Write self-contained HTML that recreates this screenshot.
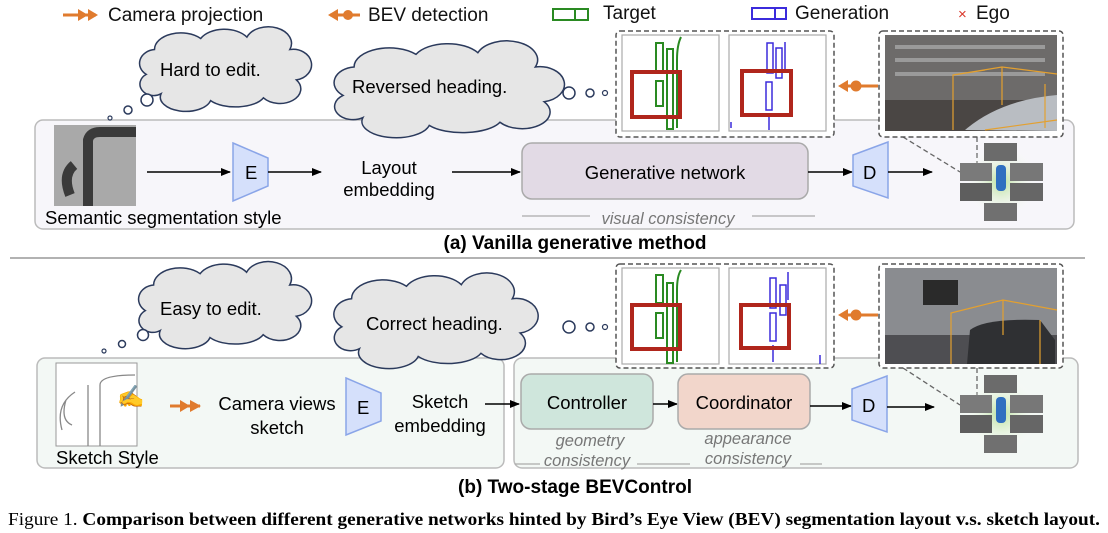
<!DOCTYPE html>
<html><head><meta charset="utf-8"><style>
body{margin:0;background:#fff}
svg{display:block;font-family:"Liberation Sans",sans-serif}
</style></head><body>
<svg width="1108" height="533" viewBox="0 0 1108 533" xmlns="http://www.w3.org/2000/svg">
<defs>
<marker id="ar" markerWidth="10" markerHeight="8" refX="9" refY="4" orient="auto" markerUnits="userSpaceOnUse"><path d="M0,0 L10,4 L0,8 Z" fill="#000"/></marker>
<radialGradient id="gl"><stop offset="0" stop-color="#b8e09a"/><stop offset="1" stop-color="#ffffff" stop-opacity="0"/></radialGradient>
<g id="cloud"><path d="M5,30 A10,10 0 0 1 10,12 A16,12 0 0 1 38,4 A16,12 0 0 1 66,3 A14,12 0 0 1 92,12 A10,10 0 0 1 96,34 A12,10 0 0 1 76,47 A18,10 0 0 1 44,49 A15,10 0 0 1 14,44 A8,8 0 0 1 5,30 Z" fill="#e6e6e6" stroke="#2b3a5c" stroke-width="1.5" vector-effect="non-scaling-stroke"/></g>
<g id="mosaic">
<circle cx="41" cy="39" r="38" fill="url(#gl)"/>
<rect x="24" y="0" width="33" height="18" fill="#6b6b6b"/>
<rect x="0" y="20" width="32" height="18" fill="#7a7a7a"/>
<rect x="0" y="40" width="32" height="18" fill="#5e5e5e"/>
<rect x="50" y="20" width="33" height="18" fill="#777"/>
<rect x="50" y="40" width="33" height="18" fill="#666"/>
<rect x="24" y="60" width="33" height="18" fill="#707070"/>
<rect x="36" y="22" width="10" height="26" rx="4" fill="#2f6fc0"/>
</g>
</defs>

<!-- legend -->
<g font-size="19" fill="#111">
<path d="M63,15 H96" stroke="#e07b2e" stroke-width="3"/><path d="M78,9 L88,15 L78,21 Z M88,9 L98,15 L88,21 Z" fill="#e07b2e"/>
<text x="108" y="21">Camera projection</text>
<path d="M330,15 H360" stroke="#e07b2e" stroke-width="3"/><path d="M338,9 L328,15 L338,21 Z" fill="#e07b2e"/><circle cx="348" cy="15" r="5" fill="#e07b2e"/>
<text x="368" y="21">BEV detection</text>
<rect x="553" y="9" width="35" height="11" fill="none" stroke="#2a8a22" stroke-width="2"/><path d="M575,9 V20" stroke="#2a8a22" stroke-width="2"/>
<text x="603" y="19">Target</text>
<rect x="752" y="8" width="34" height="11" fill="none" stroke="#3b2bdc" stroke-width="2"/><path d="M775,8 V19" stroke="#3b2bdc" stroke-width="2"/>
<text x="795" y="19">Generation</text>
<text x="958" y="19" fill="#d9372a" font-size="15">×</text><text x="976" y="19">Ego</text>
</g>

<g font-size="18.5">
<!-- top panel -->
<rect x="35" y="120" width="1039" height="109" rx="8" fill="#f7f6fa" stroke="#bbb" stroke-width="1.5"/>
<use href="#cloud" transform="translate(138,33) scale(1.65,1.38)"/>
<text x="160" y="76">Hard to edit.</text>
<circle cx="147" cy="100" r="6" fill="#fff" stroke="#2b3a5c" stroke-width="1.5"/>
<circle cx="128" cy="110" r="4" fill="#fff" stroke="#2b3a5c" stroke-width="1.5"/>
<circle cx="110" cy="118" r="2" fill="#fff" stroke="#2b3a5c" stroke-width="1.2"/>
<use href="#cloud" transform="translate(332,48) scale(2.21,1.58)"/>
<text x="352" y="93">Reversed heading.</text>
<circle cx="569" cy="93" r="6" fill="#fff" stroke="#2b3a5c" stroke-width="1.5"/>
<circle cx="590" cy="93" r="4" fill="#fff" stroke="#2b3a5c" stroke-width="1.5"/>
<circle cx="605" cy="93" r="2.5" fill="#fff" stroke="#2b3a5c" stroke-width="1.2"/>

<rect x="54" y="125" width="82" height="81" fill="#a9a9a9"/>
<path d="M88,206 V140 Q90,132 100,132 H136 M70,195 Q62,175 74,165" stroke="#3a3a3a" stroke-width="10" fill="none"/>
<text x="45" y="224">Semantic segmentation style</text>
<path d="M147,172 H230" stroke="#000" stroke-width="1.5" marker-end="url(#ar)"/>
<path d="M233,143 L268,158 L268,186 L233,201 Z" fill="#d5e0fb" stroke="#8aa5e8" stroke-width="1.5"/>
<text x="245" y="179">E</text>
<path d="M268,172 H321" stroke="#000" stroke-width="1.5" marker-end="url(#ar)"/>
<text x="389" y="174" text-anchor="middle">Layout</text>
<text x="389" y="196" text-anchor="middle">embedding</text>
<path d="M452,172 H520" stroke="#000" stroke-width="1.5" marker-end="url(#ar)"/>
<rect x="522" y="143" width="286" height="56" rx="10" fill="#e2dae5" stroke="#aaa" stroke-width="1.5"/>
<text x="665" y="179" text-anchor="middle">Generative network</text>
<path d="M808,172 H852" stroke="#000" stroke-width="1.5" marker-end="url(#ar)"/>
<path d="M853,155 L888,142 L888,198 L853,186 Z" fill="#d5e0fb" stroke="#8aa5e8" stroke-width="1.5"/>
<text x="863" y="179">D</text>
<path d="M888,172 H932" stroke="#000" stroke-width="1.5" marker-end="url(#ar)"/>
<text x="668" y="224" font-size="16.5" font-style="italic" fill="#777" text-anchor="middle">visual consistency</text>
<path d="M522,216 H590 M752,216 H815" stroke="#aaa" stroke-width="1.2"/>
<path d="M903,137 L960,172 M977,137 V163" stroke="#666" stroke-width="1.3" stroke-dasharray="5,3"/>
<use href="#mosaic" transform="translate(960,143)"/>

<!-- top BEV boxes -->
<rect x="616" y="31" width="218" height="106" rx="4" fill="#fff" stroke="#555" stroke-width="1.5" stroke-dasharray="5,3"/>
<rect x="622" y="35" width="97" height="96" fill="#fff" stroke="#aaa" stroke-width="1.2"/>
<rect x="729" y="35" width="97" height="96" fill="#fff" stroke="#aaa" stroke-width="1.2"/>
<g fill="none" stroke="#2a8a22" stroke-width="2"><rect x="656" y="43" width="7" height="30"/><rect x="667" y="49" width="6" height="80"/><rect x="656" y="81" width="7" height="25"/><path d="M677,128 V60 Q677,45 681,37"/></g>
<g fill="none" stroke="#3b2bdc" stroke-width="1.5"><rect x="767" y="43" width="6" height="30"/><rect x="776" y="48" width="6" height="30"/><rect x="766" y="82" width="6" height="28"/><path d="M785,42 V70 M769,115 V130 M731,122 V128"/></g>
<rect x="632" y="72" width="48" height="45" fill="none" stroke="#b0261c" stroke-width="4"/>
<rect x="742" y="71" width="49" height="44" fill="none" stroke="#b0261c" stroke-width="4"/>
<path d="M845,86 H878" stroke="#e07b2e" stroke-width="3"/><path d="M848,80 L838,86 L848,92 Z" fill="#e07b2e"/><circle cx="856" cy="86" r="5.5" fill="#e07b2e"/>
<rect x="879" y="31" width="184" height="106" rx="4" fill="#fff" stroke="#555" stroke-width="1.5" stroke-dasharray="5,3"/>
<rect x="885" y="35" width="172" height="96" fill="#6d6b6a"/>
<g fill="#9a9a9a"><rect x="895" y="45" width="150" height="4"/><rect x="895" y="58" width="150" height="4"/><rect x="895" y="72" width="150" height="4"/></g>
<rect x="885" y="100" width="172" height="31" fill="#4a4644"/>
<path d="M965,130 Q1000,100 1057,95 V131 Z" fill="#b9bdc2"/>
<g fill="none" stroke="#e3a030" stroke-width="1.2"><path d="M953,130 V75 L1002,67 L1057,74 M953,75 L985,70 M1002,67 V105 M1045,84 V128 M985,130 L1057,120"/></g>

<text x="575" y="249" font-size="19" font-weight="bold" text-anchor="middle">(a) Vanilla generative method</text>
<path d="M10,258 H1085" stroke="#999" stroke-width="1.5"/>

<!-- bottom -->
<rect x="37" y="358" width="467" height="110" rx="8" fill="#f3f8f5" stroke="#bbb" stroke-width="1.5"/>
<rect x="514" y="358" width="564" height="110" rx="8" fill="#f3f8f5" stroke="#bbb" stroke-width="1.5"/>
<use href="#cloud" transform="translate(137,268) scale(1.66,1.42)"/>
<text x="160" y="315">Easy to edit.</text>
<circle cx="143" cy="335" r="5.5" fill="#fff" stroke="#2b3a5c" stroke-width="1.5"/>
<circle cx="122" cy="344" r="3.5" fill="#fff" stroke="#2b3a5c" stroke-width="1.5"/>
<circle cx="104" cy="351" r="2" fill="#fff" stroke="#2b3a5c" stroke-width="1.2"/>
<use href="#cloud" transform="translate(332,280) scale(1.96,1.56)"/>
<text x="366" y="330">Correct heading.</text>
<circle cx="569" cy="327" r="6" fill="#fff" stroke="#2b3a5c" stroke-width="1.5"/>
<circle cx="590" cy="327" r="4" fill="#fff" stroke="#2b3a5c" stroke-width="1.5"/>
<circle cx="605" cy="327" r="2.5" fill="#fff" stroke="#2b3a5c" stroke-width="1.2"/>

<rect x="56" y="363" width="81" height="83" fill="#fff" stroke="#999" stroke-width="1"/>
<path d="M88,446 V385 M100,446 V385 Q100,375 135,375 M62,430 Q55,405 75,392 M66,400 Q60,420 72,425" stroke="#888" stroke-width="1.3" fill="none"/>
<text x="117" y="404" font-size="22">✍</text>
<text x="56" y="464">Sketch Style</text>
<path d="M170,406 H200" stroke="#e07b2e" stroke-width="3"/><path d="M180,400 L190,406 L180,412 Z M190,400 L201,406 L190,412 Z" fill="#e07b2e"/>
<text x="277" y="410" text-anchor="middle">Camera views</text>
<text x="277" y="434" text-anchor="middle">sketch</text>
<path d="M346,378 L381,393 L381,421 L346,435 Z" fill="#d5e0fb" stroke="#8aa5e8" stroke-width="1.5"/>
<text x="357" y="414">E</text>
<text x="440" y="408" text-anchor="middle">Sketch</text>
<text x="440" y="432" text-anchor="middle">embedding</text>
<path d="M485,404 H519" stroke="#000" stroke-width="1.5" marker-end="url(#ar)"/>
<rect x="521" y="374" width="132" height="55" rx="10" fill="#cfe6dc" stroke="#aaa" stroke-width="1.5"/>
<text x="587" y="409" text-anchor="middle">Controller</text>
<path d="M653,404 H677" stroke="#000" stroke-width="1.5" marker-end="url(#ar)"/>
<rect x="678" y="374" width="132" height="55" rx="10" fill="#f2d6cb" stroke="#aaa" stroke-width="1.5"/>
<text x="744" y="409" text-anchor="middle">Coordinator</text>
<path d="M810,406 H851" stroke="#000" stroke-width="1.5" marker-end="url(#ar)"/>
<path d="M852,389 L887,376 L887,432 L852,420 Z" fill="#d5e0fb" stroke="#8aa5e8" stroke-width="1.5"/>
<text x="862" y="412">D</text>
<path d="M887,407 H934" stroke="#000" stroke-width="1.5" marker-end="url(#ar)"/>
<g font-size="16.5" font-style="italic" fill="#777" text-anchor="middle">
<text x="590" y="446">geometry</text><text x="587" y="466">consistency</text>
<text x="748" y="444">appearance</text><text x="748" y="464">consistency</text></g>
<path d="M515,464 H540 M637,464 H690 M800,464 H822" stroke="#aaa" stroke-width="1.2"/>
<path d="M903,368 L960,405 M977,368 V395" stroke="#666" stroke-width="1.3" stroke-dasharray="5,3"/>
<use href="#mosaic" transform="translate(960,375)"/>

<rect x="616" y="264" width="218" height="104" rx="4" fill="#fff" stroke="#555" stroke-width="1.5" stroke-dasharray="5,3"/>
<rect x="622" y="268" width="97" height="96" fill="#fff" stroke="#aaa" stroke-width="1.2"/>
<rect x="729" y="268" width="97" height="96" fill="#fff" stroke="#aaa" stroke-width="1.2"/>
<g fill="none" stroke="#2a8a22" stroke-width="2"><rect x="656" y="275" width="7" height="28"/><rect x="667" y="283" width="6" height="80"/><rect x="656" y="313" width="7" height="25"/><path d="M677,362 V290 Q677,276 681,270"/></g>
<g fill="none" stroke="#3b2bdc" stroke-width="1.5"><rect x="770" y="278" width="6" height="30"/><rect x="780" y="285" width="6" height="30"/><rect x="770" y="313" width="6" height="28"/><path d="M788,272 V300 M773,345 V362 M820,355 V364"/></g>
<rect x="632" y="305" width="48" height="44" fill="none" stroke="#b0261c" stroke-width="4"/>
<rect x="741" y="305" width="48" height="43" fill="none" stroke="#b0261c" stroke-width="4"/>
<path d="M845,315 H878" stroke="#e07b2e" stroke-width="3"/><path d="M848,309 L838,315 L848,321 Z" fill="#e07b2e"/><circle cx="856" cy="315" r="5.5" fill="#e07b2e"/>
<rect x="879" y="264" width="184" height="104" rx="4" fill="#fff" stroke="#555" stroke-width="1.5" stroke-dasharray="5,3"/>
<rect x="885" y="268" width="172" height="96" fill="#8a8c90"/>
<rect x="885" y="335" width="172" height="29" fill="#4e4e52"/>
<rect x="923" y="280" width="35" height="25" fill="#2a2a2a"/>
<path d="M967,364 L970,330 Q985,318 1040,320 L1055,340 L1055,364 Z" fill="#2f3033"/>
<g fill="none" stroke="#e3a030" stroke-width="1.2"><path d="M951,364 V313 L1003,300 L1057,310 M1003,300 V335 M1040,320 V364"/></g>

<text x="575" y="493" font-size="19" font-weight="bold" text-anchor="middle">(b) Two-stage BEVControl</text>
</g>
<text x="8" y="525" font-family="Liberation Serif,serif" font-size="18" textLength="1092" lengthAdjust="spacingAndGlyphs">Figure 1.  <tspan font-weight="bold">Comparison between different generative networks hinted by Bird’s Eye View (BEV) segmentation layout v.s. sketch layout.</tspan></text>
</svg>
</body></html>
